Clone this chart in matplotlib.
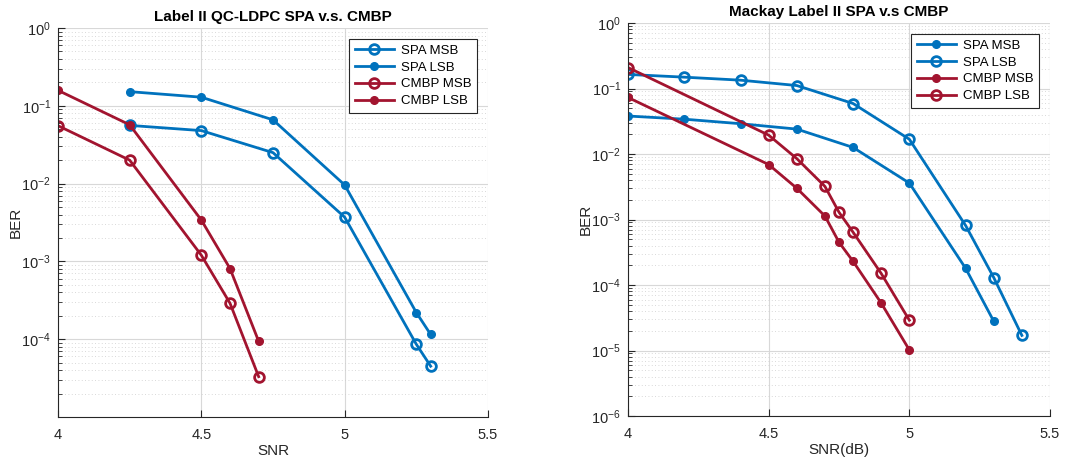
import matplotlib.pyplot as plt
import matplotlib.ticker as mticker
import numpy as np

plt.rcParams['font.family'] = ['Liberation Sans', 'DejaVu Sans']

BLUE = '#0072BD'
RED = '#A2142F'

# ---------------- left: QC-LDPC ----------------
l_spa_msb_x = [4.25, 4.5, 4.75, 5.0, 5.25, 5.3]
l_spa_msb_y = [0.056, 0.048, 0.025, 0.0037, 8.6e-5, 4.5e-5]
l_spa_lsb_x = [4.25, 4.5, 4.75, 5.0, 5.25, 5.3]
l_spa_lsb_y = [0.152, 0.129, 0.066, 0.0096, 2.2e-4, 1.15e-4]
l_cmbp_msb_x = [4.0, 4.25, 4.5, 4.6, 4.7]
l_cmbp_msb_y = [0.0555, 0.020, 0.0012, 2.9e-4, 3.3e-5]
l_cmbp_lsb_x = [4.0, 4.25, 4.5, 4.6, 4.7]
l_cmbp_lsb_y = [0.158, 0.057, 3.4e-3, 8.1e-4, 9.4e-5]

# ---------------- right: Mackay ----------------
r_spa_msb_x = [4.0, 4.2, 4.4, 4.6, 4.8, 5.0, 5.2, 5.3]
r_spa_msb_y = [0.038, 0.034, 0.029, 0.024, 0.0126, 0.0036, 1.8e-4, 2.8e-5]
r_spa_lsb_x = [4.0, 4.2, 4.4, 4.6, 4.8, 5.0, 5.2, 5.3, 5.4]
r_spa_lsb_y = [0.164, 0.149, 0.134, 0.111, 0.059, 0.0168, 8.1e-4, 1.3e-4, 1.7e-5]
r_cmbp_msb_x = [4.0, 4.5, 4.6, 4.7, 4.75, 4.8, 4.9, 5.0]
r_cmbp_msb_y = [0.073, 0.0069, 0.0030, 0.00113, 4.5e-4, 2.3e-4, 5.3e-5, 1.02e-5]
r_cmbp_lsb_x = [4.0, 4.5, 4.6, 4.7, 4.75, 4.8, 4.9, 5.0]
r_cmbp_lsb_y = [0.209, 0.0194, 0.0085, 0.0032, 0.00129, 6.4e-4, 1.5e-4, 2.9e-5]

xticks = [4, 4.5, 5, 5.5]
xtick_labels = ['4', '4.5', '5', '5.5']


def curve(ax, x, y, color, hollow, label):
    if hollow:
        ax.plot(x, y, color=color, lw=2, marker='o', ms=7, mfc='none', mew=2, label=label)
    else:
        ax.plot(x, y, color=color, lw=2, marker='o', ms=5.5, mfc=color, mec=color, label=label)


def style(ax, ymin, yticks, title, xlabel):
    ax.set_yscale('log')
    ax.set_xlim(4, 5.5)
    ax.set_ylim(ymin, 1)
    ax.set_xticks(xticks)
    ax.set_xticklabels(xtick_labels)
    ax.set_yticks(yticks)
    ax.yaxis.set_major_formatter(mticker.LogFormatterMathtext())
    ax.yaxis.set_minor_locator(mticker.LogLocator(base=10, subs=np.arange(2, 10), numticks=20))
    ax.yaxis.set_minor_formatter(mticker.NullFormatter())
    ax.grid(True, which='major', color='#d8d8d8', lw=0.8, ls='-')
    ax.grid(True, which='minor', axis='y', color='#cccccc', lw=0.6, ls=(0, (1, 3)))
    ax.set_axisbelow(True)
    for s in ['top', 'right']:
        ax.spines[s].set_visible(False)
    for s in ['left', 'bottom']:
        ax.spines[s].set_color('#262626')
        ax.spines[s].set_linewidth(0.8)
    ax.tick_params(which='both', direction='in', colors='#262626', labelsize=10.5, top=False, right=False)
    ax.tick_params(which='major', length=5)
    ax.tick_params(which='minor', length=3)
    ax.tick_params(axis='x', pad=8)
    ax.tick_params(axis='y', pad=5)
    ax.set_title(title, fontsize=11, fontweight='bold', color='#000000', pad=5)
    ax.set_xlabel(xlabel, fontsize=11, color='#262626', labelpad=1)
    ax.set_ylabel('BER', fontsize=11, color='#262626', labelpad=-1)
    leg = ax.legend(loc='upper right', fontsize=9.5, fancybox=False, framealpha=1,
                    edgecolor='#262626', handlelength=3.0, handletextpad=0.5, borderpad=0.45,
                    labelspacing=0.35, borderaxespad=0.8)
    leg.get_frame().set_linewidth(0.8)


fig = plt.figure(figsize=(10.83, 4.61), dpi=100)
ax1 = fig.add_axes([58 / 1083, 1 - 417 / 461, 430 / 1083, 389 / 461])
ax2 = fig.add_axes([628 / 1083, 1 - 416 / 461, 422 / 1083, 393 / 461])

curve(ax1, l_spa_msb_x, l_spa_msb_y, BLUE, True, 'SPA MSB')
curve(ax1, l_spa_lsb_x, l_spa_lsb_y, BLUE, False, 'SPA LSB')
curve(ax1, l_cmbp_msb_x, l_cmbp_msb_y, RED, True, 'CMBP MSB')
curve(ax1, l_cmbp_lsb_x, l_cmbp_lsb_y, RED, False, 'CMBP LSB')
style(ax1, 1e-5, [1e-4, 1e-3, 1e-2, 1e-1, 1], 'Label II QC-LDPC SPA v.s. CMBP', 'SNR')

curve(ax2, r_spa_msb_x, r_spa_msb_y, BLUE, False, 'SPA MSB')
curve(ax2, r_spa_lsb_x, r_spa_lsb_y, BLUE, True, 'SPA LSB')
curve(ax2, r_cmbp_msb_x, r_cmbp_msb_y, RED, False, 'CMBP MSB')
curve(ax2, r_cmbp_lsb_x, r_cmbp_lsb_y, RED, True, 'CMBP LSB')
style(ax2, 1e-6, [1e-6, 1e-5, 1e-4, 1e-3, 1e-2, 1e-1, 1], 'Mackay Label II SPA v.s CMBP', 'SNR(dB)')

fig.savefig('out.png', dpi=100)
